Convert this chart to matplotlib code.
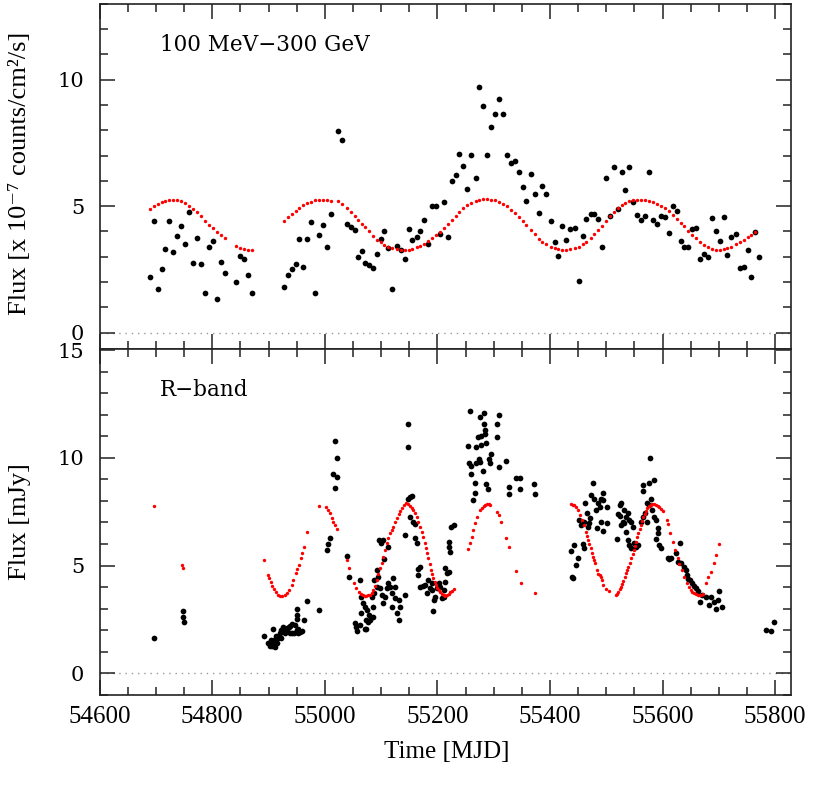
import numpy as np
import matplotlib
matplotlib.use("Agg")
import matplotlib.pyplot as plt
from matplotlib.ticker import MultipleLocator

# ---- gamma-ray light curve (top panel), weekly bins ----
gamma_t = [54689, 54696, 54703, 54710, 54717, 54724, 54731, 54738, 54745, 54752,
           54759, 54766, 54773, 54780, 54787, 54794, 54801, 54808, 54815, 54822,
           54843, 54850, 54857, 54864, 54871,
           54927, 54934, 54941, 54948, 54955, 54962, 54969, 54976, 54983, 54990,
           54997, 55004, 55011, 55023, 55031, 55039, 55046, 55053, 55059, 55066,
           55071, 55078, 55085, 55093, 55099, 55106, 55113, 55120, 55128, 55135,
           55142, 55149, 55155, 55163, 55169, 55176, 55183, 55190, 55198, 55205,
           55212, 55218, 55226, 55233, 55239, 55246, 55253, 55260, 55268, 55274,
           55281, 55288, 55296, 55302, 55309, 55316, 55323, 55331, 55338, 55345,
           55352, 55358, 55366, 55373, 55380, 55386, 55393, 55401, 55408, 55414,
           55421, 55428, 55436, 55444, 55451, 55458, 55464, 55472, 55479, 55486,
           55492, 55499, 55507, 55513, 55520, 55527, 55534, 55541, 55548, 55555,
           55562, 55569, 55576, 55583, 55590, 55597, 55604, 55611, 55618, 55625,
           55632, 55638, 55646, 55653, 55660, 55667, 55674, 55681, 55688, 55695,
           55702, 55709, 55715, 55722, 55730, 55737, 55744, 55751, 55757, 55764,
           55772]
gamma_flux = [2.18, 4.42, 1.71, 2.50, 3.29, 4.42, 3.19, 3.80, 4.21, 3.49,
              4.75, 2.74, 3.74, 2.71, 1.56, 3.37, 3.64, 1.34, 2.79, 2.34,
              2.01, 3.03, 2.90, 2.29, 1.56,
              1.81, 2.29, 2.51, 2.72, 3.69, 2.59, 3.70, 4.38, 1.55, 3.85,
              4.26, 3.39, 4.70, 7.98, 7.62, 4.30, 4.19, 4.05, 2.99, 3.23,
              2.74, 2.66, 2.55, 3.11, 3.69, 4.02, 3.33, 1.71, 3.43, 3.25,
              2.90, 4.11, 3.68, 3.78, 4.02, 4.46, 3.49, 4.99, 4.99, 3.89,
              5.17, 3.77, 6.01, 6.24, 7.06, 6.57, 5.67, 7.01, 6.11, 9.72,
              8.98, 7.04, 8.12, 8.64, 9.22, 8.65, 7.04, 6.71, 6.80, 6.34,
              5.77, 5.19, 6.28, 5.48, 4.71, 5.81, 5.50, 4.43, 3.60, 3.04,
              4.22, 3.65, 4.10, 4.13, 2.04, 3.80, 4.50, 4.68, 4.68, 4.51,
              3.37, 6.12, 4.63, 6.56, 4.88, 6.36, 5.62, 6.55, 5.16, 4.67,
              4.44, 4.60, 6.34, 4.44, 4.29, 4.63, 4.59, 3.93, 4.99, 4.80,
              3.64, 3.39, 3.39, 4.11, 4.15, 2.92, 3.11, 2.98, 4.54, 4.01,
              3.64, 4.59, 3.08, 3.78, 3.90, 2.57, 2.61, 3.28, 2.21, 3.98,
              3.00]
# periodic model (red), read at the same bins; None = not drawn
gamma_model = [4.88, 4.99, 5.09, 5.17, 5.22, 5.25, 5.25, 5.24, 5.19, 5.11,
               5.01, 4.89, 4.76, 4.60, 4.43, 4.27, 4.12, 3.98, 3.86, 3.74,
               3.43, 3.36, 3.30, 3.27, 3.26,
               4.42, 4.56, 4.70, 4.81, 4.92, 5.03, 5.11, 5.18, 5.23, 5.25,
               5.26, 5.25, 5.22, 5.19, 5.07, 4.92, 4.76, 4.61, 4.45, 4.28,
               4.16, 4.00, 3.83, 3.68, 3.57, 3.48, 3.39, 3.34, 3.29, 3.27,
               3.26, 3.28, 3.31, 3.38, 3.43, 3.51, 3.62, 3.74, 3.87, 3.99,
               4.15, 4.28, 4.44, 4.61, 4.75, 4.92, 5.04, 5.14, 5.21, 5.25,
               5.27, 5.28, 5.26, 5.24, 5.16, 5.09, 4.99, 4.86, 4.72, 4.56,
               4.40, 4.25, 4.04, 3.88, 3.72, 3.60, 3.49, 3.40, 3.33, 3.29,
               3.27, 3.27, 3.29, 3.33, 3.40, 3.50, 3.60, 3.75, 3.90, 4.06,
               4.21, 4.40, 4.62, 4.76, 4.92, 5.04, 5.12, 5.19, 5.23, 5.25,
               5.25, 5.25, 5.22, 5.17, 5.10, 5.01, 4.91, 4.80, 4.66, 4.51,
               4.35, 4.21, 4.03, 3.87, 3.73, 3.60, 3.48, 3.39, 3.32, 3.28,
               3.27, 3.29, 3.33, 3.40, 3.49, 3.58, 3.68, 3.77, 3.87, 3.99,
               None]

# ---- optical R-band light curve (bottom panel) ----
rband_t = [54696, 54749, 54749, 54750,
           54892, 54899, 54902, 54904, 54905, 54907, 54908, 54909, 54911, 54911,
           54914, 54915, 54917, 54920, 54923, 54923, 54926, 54926, 54929, 54932,
           54932, 54937, 54938, 54938, 54941, 54941, 54946, 54947, 54950, 54950,
           54950, 54950, 54953, 54953, 54956, 54959, 54963, 54969, 54989,
           55004, 55006, 55010, 55015, 55018, 55018, 55021, 55022, 55039, 55043,
           55053, 55055, 55057, 55062, 55062, 55065, 55065, 55068, 55071, 55071,
           55073, 55074, 55075, 55077, 55079, 55080, 55083, 55085, 55086, 55087,
           55088, 55092, 55092, 55095, 55097, 55098, 55099, 55101, 55103, 55104,
           55105, 55107, 55110, 55113, 55113, 55116, 55119, 55119, 55122, 55125,
           55125, 55128, 55131, 55131, 55134, 55142, 55143, 55147, 55147, 55148,
           55151, 55154, 55151, 55157, 55160, 55160, 55163, 55166, 55169, 55166,
           55169, 55174, 55178, 55181, 55184, 55187, 55190, 55190, 55194, 55193,
           55196, 55199, 55202, 55205, 55208, 55211, 55211, 55214, 55214, 55217,
           55220, 55220, 55221, 55223, 55224, 55229,
           55254, 55257, 55258, 55260, 55260, 55264, 55266, 55267, 55269, 55269,
           55272, 55273, 55275, 55275, 55278, 55278, 55281, 55282, 55283, 55284,
           55285, 55287, 55287, 55289, 55292, 55293, 55295, 55305, 55305, 55309,
           55309, 55321, 55327, 55327, 55339, 55346, 55346, 55372, 55373,
           55439, 55441, 55446, 55449, 55437, 55443, 55458, 55460, 55451, 55455,
           55460, 55466, 55463, 55473, 55477, 55479, 55482, 55484, 55485, 55488,
           55491, 55494, 55495, 55491, 55495, 55501, 55502, 55471, 55470, 55467,
           55519, 55521, 55525, 55526, 55524, 55526, 55529, 55532, 55535, 55538,
           55541, 55544, 55547, 55535, 55538, 55541, 55544, 55550, 55553, 55556,
           55532, 55562, 55565, 55568, 55566, 55565, 55576, 55584, 55577, 55572,
           55576, 55579, 55582, 55585, 55588, 55573, 55591, 55592, 55588, 55594,
           55597, 55609, 55612, 55615, 55624, 55631, 55627, 55633, 55638, 55641,
           55643, 55646, 55649, 55653, 55656, 55659, 55662, 55667, 55670, 55677,
           55683, 55686, 55691, 55695, 55698, 55701, 55705,
           55783, 55792, 55798]
rband_flux = [1.62, 2.88, 2.59, 2.39,
              1.73, 1.39, 1.27, 1.55, 1.31, 1.27, 2.04, 1.54, 1.20, 1.47,
              1.73, 1.42, 1.62, 1.85, 1.62, 2.01, 1.98, 2.16, 1.88, 2.04,
              2.09, 2.13, 1.88, 2.19, 2.29, 1.89, 1.85, 2.24, 2.01, 2.50,
              2.70, 2.98, 2.04, 1.85, 1.93, 1.98, 2.47, 3.35, 2.94,
              5.71, 6.00, 6.30, 9.27, 10.79, 8.62, 9.98, 9.12, 5.44, 4.45,
              2.32, 2.13, 1.98, 4.32, 2.24, 3.55, 2.78, 3.25, 3.09, 2.04,
              2.04, 2.47, 2.94, 2.40, 2.70, 2.47, 3.52, 2.63, 3.09, 3.71,
              4.33, 4.02, 4.79, 4.48, 6.18, 3.94, 6.03, 3.63, 6.18, 3.25,
              5.29, 3.55, 3.94, 5.87, 4.17, 4.02, 3.71, 3.09, 4.40, 4.02,
              3.48, 2.78, 3.40, 2.47, 3.09, 3.63, 6.41, 11.59, 10.48, 8.11,
              8.19, 8.22, 7.23, 7.03, 6.92, 6.26, 6.03, 4.85, 4.95, 4.56,
              4.02, 4.05, 4.10, 3.71, 4.33, 3.94, 3.86, 4.17, 3.40, 2.91,
              3.55, 3.94, 4.17, 4.02, 3.48, 3.86, 3.55, 4.25, 4.87, 4.64,
              4.71, 6.10, 5.87, 5.64, 6.80, 6.88,
              10.57, 9.76, 12.16, 9.60, 9.23, 8.06, 8.83, 8.37, 10.50, 9.76,
              10.96, 9.96, 11.89, 9.80, 10.99, 10.60, 9.39, 12.07, 11.58, 11.27,
              11.11, 10.70, 8.77, 8.57, 9.96, 9.76, 10.19, 11.58, 10.96, 11.98,
              9.57, 9.83, 8.64, 8.31, 9.08, 9.05, 8.54, 8.77, 8.31,
              4.48, 4.42, 5.01, 5.33, 5.69, 5.95, 6.00, 5.80, 7.11, 6.88,
              7.03, 7.42, 7.88, 8.27, 8.81, 8.11, 7.57, 6.72, 7.88, 7.73,
              8.11, 8.35, 8.04, 7.03, 6.60, 6.96, 7.70, 7.19, 6.96, 6.80,
              6.21, 7.39, 7.81, 7.91, 7.29, 6.88, 7.03, 7.57, 7.26, 7.42,
              7.11, 7.03, 6.80, 6.57, 6.18, 5.95, 5.80, 6.03, 5.87, 5.95,
              6.96, 7.03, 7.26, 7.42, 8.47, 8.73, 8.84, 8.96, 9.97, 7.88,
              7.81, 8.11, 7.60, 7.26, 7.11, 7.03, 6.72, 6.49, 6.21, 5.95,
              5.80, 5.33, 5.29, 5.33, 5.56, 6.06, 5.18, 5.10, 4.95, 4.79,
              4.56, 4.36, 4.33, 4.17, 4.05, 3.94, 3.83, 3.29, 3.63, 3.52,
              3.17, 3.55, 3.32, 2.97, 3.40, 3.82, 3.09,
              2.01, 1.98, 2.36]

# periodic model (red) as drawn in the R-band panel
rmodel_t = [54696, 54747, 54749,
            54892, 54899, 54901, 54904, 54906, 54909, 54913, 54917, 54921, 54924,
            54929, 54933, 54937, 54941, 54944, 54949, 54951, 54954, 54957, 54960,
            54963, 54969,
            54989, 55003, 55006, 55009, 55013, 55015, 55019, 55022, 55039, 55043,
            55052, 55056, 55060, 55064, 55068, 55071, 55074, 55077, 55080, 55083,
            55086, 55089, 55092, 55095, 55098, 55101, 55104, 55107, 55110, 55113,
            55116, 55119, 55122, 55125, 55128, 55131, 55134, 55137, 55140, 55144,
            55148, 55151, 55154, 55157, 55160, 55163, 55166, 55169, 55172, 55175,
            55178, 55180, 55182, 55184, 55186, 55188, 55190, 55193, 55196, 55198,
            55200, 55202, 55205, 55208, 55211, 55214, 55217, 55220, 55223, 55226,
            55229,
            55255, 55258, 55261, 55264, 55267, 55271, 55276, 55279, 55282, 55285,
            55288, 55291, 55294, 55306, 55309, 55313, 55322, 55328, 55340, 55348,
            55373,
            55437, 55440, 55442, 55446, 55450, 55454, 55457, 55460, 55464, 55466,
            55468, 55470, 55472, 55474, 55476, 55478, 55480, 55483, 55486, 55488,
            55490, 55492, 55495, 55499, 55504,
            55517, 55519, 55521, 55524, 55526, 55528, 55530, 55533, 55535, 55537,
            55539, 55542, 55544, 55547, 55549, 55551, 55553, 55555, 55557, 55560,
            55562, 55564, 55566, 55568, 55570, 55573, 55576, 55579, 55582, 55585,
            55588, 55591, 55594, 55597, 55600,
            55608, 55610, 55614, 55618, 55622, 55627, 55630, 55634, 55638, 55643,
            55647, 55650, 55653, 55656, 55659, 55662, 55665, 55668, 55671,
            55677, 55681, 55686, 55691, 55695, 55701]
rmodel_v = [7.74, 5.02, 4.87,
            5.24, 4.56, 4.40, 4.25, 4.05, 3.89, 3.76, 3.65, 3.60, 3.59,
            3.62, 3.71, 3.86, 4.10, 4.33, 4.64, 4.82, 5.02, 5.33, 5.56,
            5.84, 6.55,
            7.74, 7.73, 7.57, 7.42, 7.19, 7.03, 6.88, 6.68, 5.26, 4.90,
            4.17, 3.95, 3.78, 3.67, 3.61, 3.59, 3.59, 3.61, 3.63, 3.72,
            3.86, 4.07, 4.33, 4.60, 4.87, 5.14, 5.41, 5.72, 6.03, 6.26,
            6.49, 6.65, 6.80, 7.00, 7.19, 7.37, 7.54, 7.68, 7.81, 7.88,
            7.85, 7.77, 7.68, 7.57, 7.43, 7.26, 7.04, 6.80, 6.57, 6.34,
            6.05, 5.80, 5.57, 5.33, 5.06, 4.79, 4.60, 4.40, 4.22, 4.10,
            3.98, 3.86, 3.76, 3.68, 3.63, 3.60, 3.62, 3.68, 3.75, 3.83,
            3.91,
            5.75, 6.03, 6.34, 6.65, 6.96, 7.26, 7.57, 7.68, 7.77, 7.82,
            7.85, 7.84, 7.81, 7.50, 7.34, 7.03, 6.29, 5.86, 4.74, 4.20,
            3.74,
            7.84, 7.83, 7.81, 7.73, 7.57, 7.34, 7.11, 6.88, 6.57, 6.38,
            6.18, 5.99, 5.80, 5.60, 5.41, 5.25, 5.10, 4.79, 4.62, 4.56,
            4.45, 4.33, 4.10, 3.89, 3.83,
            3.63, 3.70, 3.79, 3.92, 4.02, 4.16, 4.30, 4.47, 4.64, 4.80,
            4.95, 5.14, 5.33, 5.53, 5.72, 5.92, 6.11, 6.32, 6.52, 6.70,
            6.88, 7.07, 7.26, 7.40, 7.54, 7.66, 7.76, 7.82, 7.85, 7.84,
            7.81, 7.76, 7.70, 7.62, 7.54,
            7.11, 6.92, 6.49, 6.11, 5.72, 5.33, 5.07, 4.79, 4.45, 4.17,
            3.99, 3.88, 3.79, 3.73, 3.68, 3.65, 3.63, 3.64, 3.68,
            4.17, 4.45, 4.71, 5.10, 5.49, 6.00]

xmin, xmax = 54600, 55828
label_fonts = ["Liberation Serif", "DejaVu Serif"]

plt.rcParams["font.family"] = "DejaVu Serif"

fig = plt.figure(figsize=(8.37, 7.86), dpi=100)
ax1 = fig.add_axes([0.119, 0.556, 0.826, 0.439])
ax2 = fig.add_axes([0.119, 0.116, 0.826, 0.440], sharex=ax1)

black_size = 17
red_size = 6

gm = np.array([np.nan if v is None else v for v in gamma_model], dtype=float)
ax1.scatter(gamma_t, gamma_flux, s=black_size, c="black", linewidths=0, zorder=3)
ax1.scatter(gamma_t, gm, s=red_size, c="#ff0000", linewidths=0, zorder=4)

ax2.scatter(rband_t, rband_flux, s=black_size, c="black", linewidths=0, zorder=3)
ax2.scatter(rmodel_t, rmodel_v, s=red_size, c="#ff0000", linewidths=0, zorder=4)

for ax in (ax1, ax2):
    ax.axhline(0, color="0.6", lw=1.0, ls=(0, (1, 3.5)), zorder=1)
    ax.set_xlim(xmin, xmax)
    ax.xaxis.set_major_locator(MultipleLocator(200))
    ax.xaxis.set_minor_locator(MultipleLocator(50))
    ax.yaxis.set_major_locator(MultipleLocator(5))
    ax.yaxis.set_minor_locator(MultipleLocator(1))
    ax.tick_params(which="both", direction="in", top=True, right=True,
                   width=1.1, color="#222222")
    ax.tick_params(which="major", length=11, labelsize=15)
    ax.tick_params(which="minor", length=5.5)
    ax.tick_params(axis="y", pad=11)
    for sp in ax.spines.values():
        sp.set_linewidth(1.2)
        sp.set_color("#222222")

ax1.set_ylim(-0.65, 13.0)
ax2.set_ylim(-1.0, 15.05)
ax1.tick_params(axis="x", labelbottom=False)
for lab in ax2.get_xticklabels():
    lab.set_fontfamily("Liberation Serif")
    lab.set_fontsize(18)
ax2.tick_params(axis="x", pad=8)

ax1.text(0.087, 0.88, "100 MeV\u2212300 GeV", transform=ax1.transAxes,
         fontsize=15.5, va="center", ha="left")
ax2.text(0.087, 0.88, "R\u2212band", transform=ax2.transAxes,
         fontsize=15.5, va="center", ha="left")

fig.text(0.534, 0.043, "Time [MJD]", ha="center", va="center",
         family="Liberation Serif", fontsize=18)
fig.text(0.024, 0.78, "Flux [x 10\u207b\u2077 counts/cm\u00b2/s]", rotation=90,
         ha="center", va="center", family=label_fonts, fontsize=19)
fig.text(0.024, 0.336, "Flux [mJy]", rotation=90,
         ha="center", va="center", family=label_fonts, fontsize=19)

fig.savefig("out.png", dpi=100)
